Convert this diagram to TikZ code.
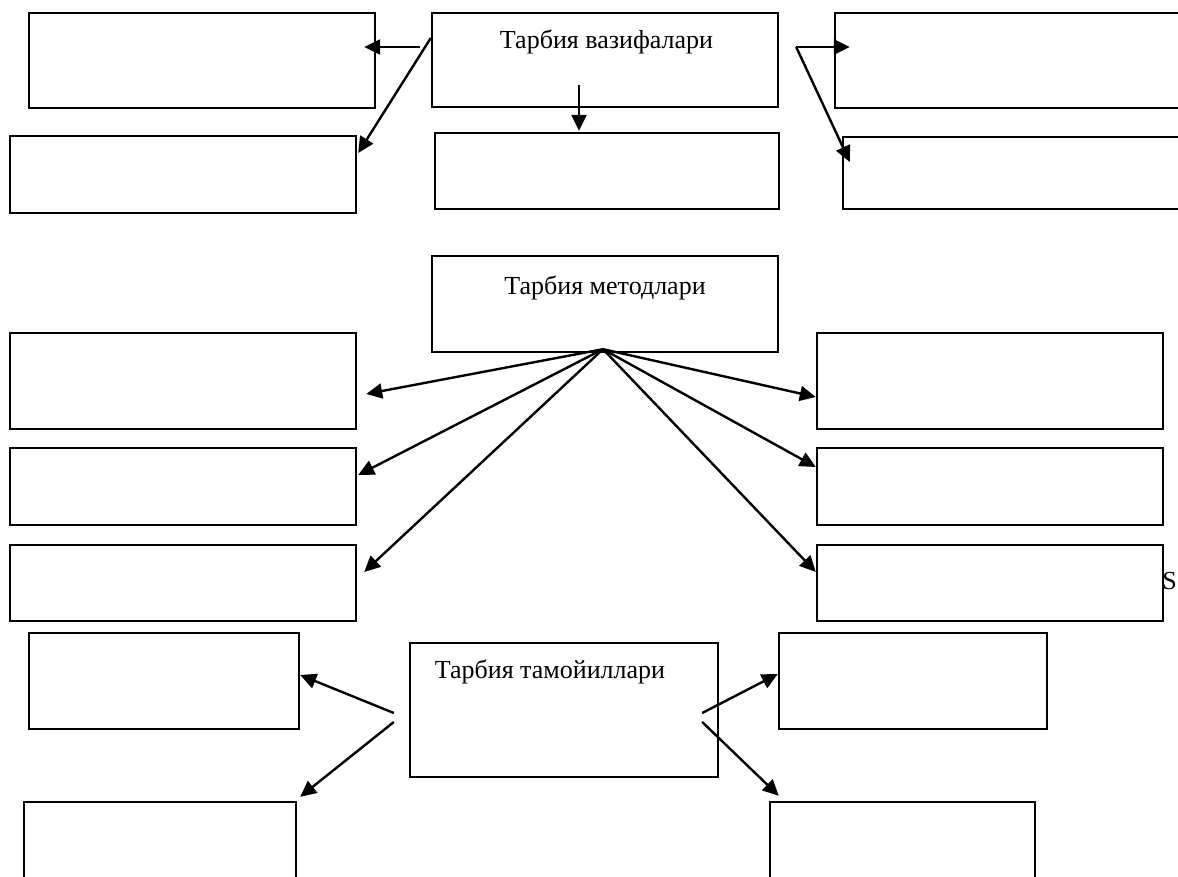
\documentclass[tikz,border=0pt]{standalone}
\usepackage{fontspec}
\setmainfont{Liberation Serif}
\usepackage{tikz}
\usetikzlibrary{arrows.meta,positioning,calc}

\begin{document}
\begin{tikzpicture}[
  x=0.5pt, y=-0.5pt,
  font=\fontsize{13}{15}\selectfont,
  box/.style={draw, line width=1.2pt, fill=white, inner sep=0pt, minimum width=173pt, minimum height=47.5pt},
  lbl/.style={inner sep=0pt, anchor=base},
  arr/.style={-{Triangle[length=8pt,width=7.5pt]}, line width=1.2pt}
]
\clip (0,0) rectangle (1178,877);

% vazifalari
\node[box, minimum height=47pt] (vTop) at (605,60) {};
\node[lbl] (vName) at (606.5,49) {Тарбия вазифалари};
\node[box] (vL1) at (202,60.5) {};
\node[box, minimum height=38.5pt] (vL2) at (183,174.5) {};
\node[box, minimum width=172pt, minimum height=38pt] (vC2) at (607,171) {};
\node[box] (vR1) at (1008,60.5) {};
\node[box, minimum height=36pt] (vR2) at (1016,173) {};
\coordinate (vfork) at ($(vTop.east)+(17,-13)$);
\draw[arr] ($(vTop.west)+(-11,-13)$) -- ($(vL1.east)+(-12,-13.5)$);
\draw[arr] ($(vTop.west)+(0,-22)$) -- ($(vL2.east)+(1,-21.5)$);
\draw[arr] ($(vTop.south)+(-26,-23)$) -- ($(vC2.north)+(-28,-1)$);
\draw[arr] (vfork) -- ($(vR1.west)+(16,-13.5)$);
\draw[arr] (vfork) -- ($(vR2.west)+(8,-11)$);

% metodlari
\node[box, minimum height=48pt] (mTop) at (605,304) {};
\node[lbl] (mName) at (605,294) {Тарбия методлари};
\node[box, minimum height=48pt] (mL1) at (183,381) {};
\node[box, minimum height=38.5pt] (mL2) at (183,486.5) {};
\node[box, minimum height=38pt] (mL3) at (183,583) {};
\node[box, minimum height=48pt] (mR1) at (990,381) {};
\node[box, minimum height=38.5pt] (mR2) at (990,486.5) {};
\node[inner sep=0pt, anchor=base west] (mMark) at (1162,589) {S};
\node[box, minimum height=38pt] (mR3) at (990,583) {};
\coordinate (mhub) at ($(mTop.south)+(-2,-4)$);
\draw[arr] (mhub) -- ($(mL1.east)+(9,13)$);
\draw[arr] (mhub) -- ($(mL2.east)+(1,-11.5)$);
\draw[arr] (mhub) -- ($(mL3.east)+(7,-11)$);
\draw[arr] (mhub) -- ($(mR1.west)+(0,16)$);
\draw[arr] (mhub) -- ($(mR2.west)+(0,-19.5)$);
\draw[arr] (mhub) -- ($(mR3.west)+(0,-11)$);

% tamoyillari
\node[box, minimum width=154pt, minimum height=67pt] (pC) at (564,710) {};
\node[lbl] (pName) at (550,678) {Тарбия тамойиллари};
\node[box, minimum width=135pt, minimum height=48pt] (pL1) at (164,681) {};
\node[box, minimum width=136pt, minimum height=48pt] (pL2) at (160,850) {};
\node[box, minimum width=134pt, minimum height=48pt] (pR1) at (913,681) {};
\node[box, minimum width=132.5pt, minimum height=48pt] (pR2) at (902.5,850) {};
\draw[arr] ($(pC.west)+(-15,3)$) -- ($(pL1.east)+(0,-6)$);
\draw[arr] ($(pC.west)+(-15,12)$) -- ($(pL2.north east)+(3,-4)$);
\draw[arr] ($(pC.east)+(-17,3)$) -- ($(pR1.west)+(0,-7)$);
\draw[arr] ($(pC.east)+(-17,12)$) -- ($(pR2.north west)+(10,-5)$);
\end{tikzpicture}
\end{document}
